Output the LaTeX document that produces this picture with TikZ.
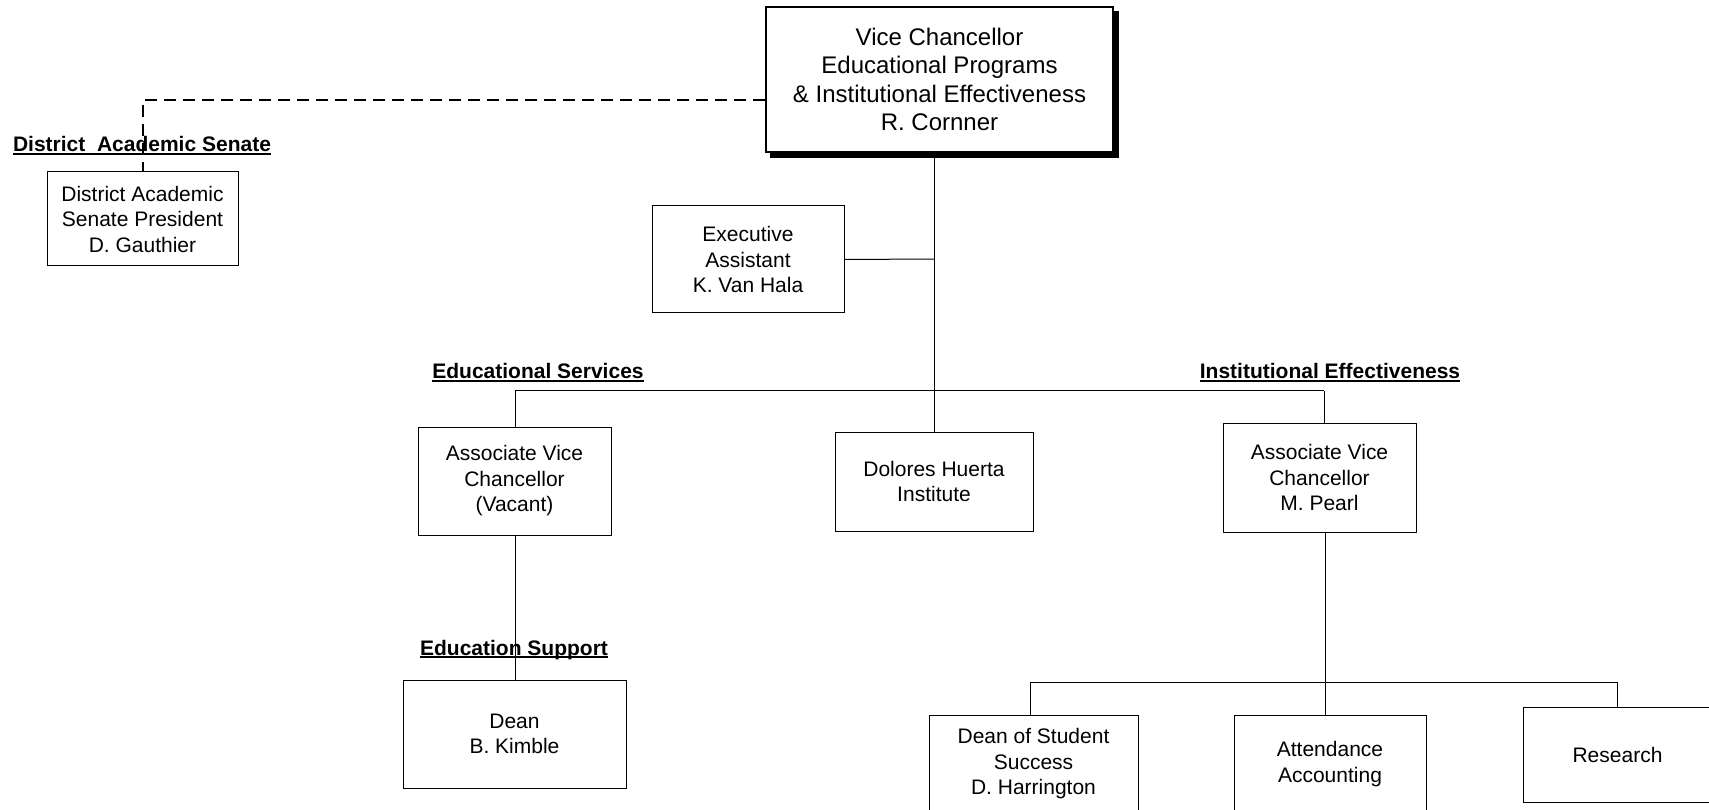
\documentclass[tikz,border=0pt]{standalone}
\usepackage{fontspec}
\setmainfont{Liberation Sans}
\newlength\ulwidth
% bold heading with a fixed-depth underline running through descenders
\newcommand\ulhead[1]{\settowidth\ulwidth{#1}\rlap{\rule[-3pt]{\ulwidth}{1.6pt}}#1}
\tikzset{
  orgbox/.style={draw, line width=1pt, fill=white, inner sep=0pt, align=center,
                 font=\fontsize{21}{25.5}\selectfont},
  topbox/.style={orgbox, line width=1.1pt, font=\fontsize{24}{28.3}\selectfont},
  heading/.style={anchor=base, inner sep=0pt, font=\fontsize{21}{25}\selectfont\bfseries},
  link/.style={line width=1pt},
  dashlink/.style={line width=1.6pt, dash pattern=on 12pt off 7pt},
}
\begin{document}
\begin{tikzpicture}[x=1pt,y=-1pt]
\useasboundingbox (0,0) rectangle (1709,810);

% boxes
\node[topbox, minimum width=347, minimum height=145] (vc) at (939.5,79.5)
  {Vice Chancellor\\Educational Programs\\\& Institutional Effectiveness\\R. Cornner};
\node[orgbox, minimum width=191, minimum height=94] (das) at (142.5,219)
  {District Academic\\Senate President\\D. Gauthier};
\node[orgbox, minimum width=192, minimum height=107] (ea) at (748,259.5)
  {Executive\\Assistant\\K. Van Hala};
\node[orgbox, minimum width=193, minimum height=108] (avces) at (514.5,481)
  {Associate Vice\\Chancellor\\(Vacant)};
\node[orgbox, minimum width=198, minimum height=99] (dhi) at (934,481.5)
  {Dolores Huerta\\Institute};
\node[orgbox, minimum width=193, minimum height=109] (avcie) at (1319.5,477.5)
  {Associate Vice\\Chancellor\\M. Pearl};
\node[orgbox, minimum width=223, minimum height=108] (dean) at (514.5,734)
  {Dean\\B. Kimble};
\node[orgbox, minimum width=209, minimum height=98] (dss) at (1033.5,764)
  {Dean of Student\\Success\\D. Harrington};
\node[orgbox, minimum width=192, minimum height=98] (aa) at (1330,764)
  {Attendance\\Accounting};
\node[orgbox, minimum width=189, minimum height=95] (res) at (1617.5,754.5)
  {Research};

% drop shadow of the top box, then the box drawn again over it
\fill ([shift={(5,5)}]vc.south west) rectangle ([shift={(5,5)}]vc.north east);
\node[topbox, minimum width=347, minimum height=145] at (vc)
  {Vice Chancellor\\Educational Programs\\\& Institutional Effectiveness\\R. Cornner};

% headings
\node[heading] (hdas) at (142,152) {\ulhead{District\ \ Academic Senate}};
\node[heading] (hes) at (538,379) {\ulhead{Educational Services}};
\node[heading] (hie) at (1330,379) {\ulhead{Institutional Effectiveness}};
\node[heading] (hsup) at (514,655) {\ulhead{Education Support}};

% junction points
\coordinate (trunk) at (934,152);
\coordinate (eaj) at (934,259);
\coordinate (busl) at (515,391);
\coordinate (busr) at (1324,391);
\coordinate (bus2c) at (1325,682);
\coordinate (bus2l) at (1030,682);
\coordinate (bus2r) at (1617,682);
\coordinate (dashc) at (143,100);

% connectors
\draw[link] (trunk) -- (trunk |- dhi.north);
\draw[link] (ea.east) -- (eaj);
\draw[link] (busl) -- (busr);
\draw[link] (busl) -- (busl |- avces.north);
\draw[link] (busr) -- (busr |- avcie.north);
\draw[link] (busl |- avces.south) -- (busl |- dean.north);
\draw[link] (bus2c |- avcie.south) -- (bus2c);
\draw[link] (bus2l) -- (bus2r);
\draw[link] (bus2l) -- (bus2l |- dss.north);
\draw[link] (bus2c) -- (bus2c |- aa.north);
\draw[link] (bus2r) -- (bus2r |- res.north);
\draw[dashlink] (vc.west |- dashc) -- (dashc) -- (dashc |- das.north);
\end{tikzpicture}
\end{document}
